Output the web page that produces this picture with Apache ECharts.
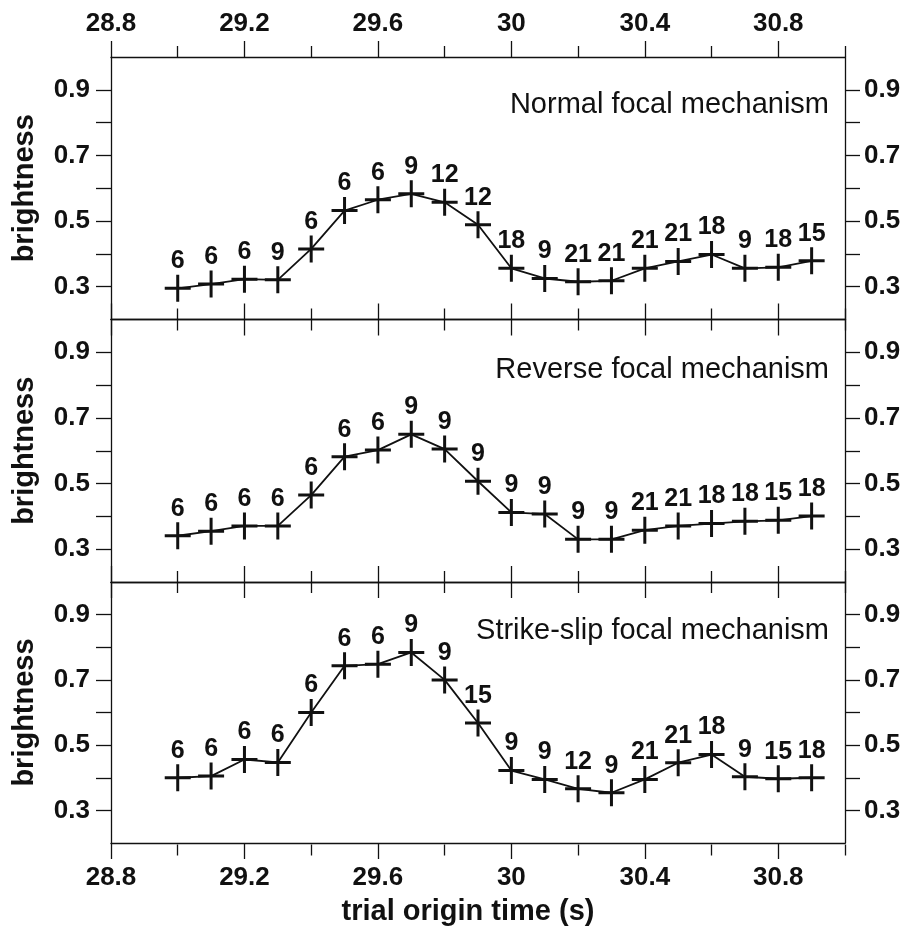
<!DOCTYPE html>
<html>
<head>
<meta charset="utf-8">
<title>Brightness vs trial origin time</title>
<script src="https://cdn.jsdelivr.net/npm/echarts@6/dist/echarts.min.js"></script>
<style>
  html, body { margin: 0; padding: 0; background: #ffffff; }
  #chart { width: 904px; height: 927px; }
</style>
</head>
<body>
<div id="chart"></div>
<script>
// Trial origin times (s) at which the brightness was evaluated
const trialTimes = [29.0, 29.1, 29.2, 29.3, 29.4, 29.5, 29.6, 29.7, 29.8, 29.9,
                    30.0, 30.1, 30.2, 30.3, 30.4, 30.5, 30.6, 30.7, 30.8, 30.9];

// Brightness per focal mechanism
const normalBrightness = [0.295, 0.308, 0.323, 0.321, 0.415, 0.532, 0.565, 0.583, 0.557, 0.489,
                          0.356, 0.325, 0.315, 0.318, 0.356, 0.377, 0.398, 0.356, 0.359, 0.379];
const reverseBrightness = [0.341, 0.355, 0.371, 0.371, 0.465, 0.582, 0.602, 0.650, 0.605, 0.507,
                           0.412, 0.407, 0.330, 0.330, 0.358, 0.371, 0.378, 0.385, 0.388, 0.401];
const strikeSlipBrightness = [0.400, 0.405, 0.456, 0.447, 0.600, 0.743, 0.748, 0.784, 0.700, 0.568,
                              0.422, 0.395, 0.366, 0.354, 0.395, 0.446, 0.471, 0.403, 0.397, 0.400];

// Numbers printed above each point
const normalCounts = [6, 6, 6, 9, 6, 6, 6, 9, 12, 12, 18, 9, 21, 21, 21, 21, 18, 9, 18, 15];
const reverseCounts = [6, 6, 6, 6, 6, 6, 6, 9, 9, 9, 9, 9, 9, 9, 21, 21, 18, 18, 15, 18];
const strikeSlipCounts = [6, 6, 6, 6, 6, 6, 6, 9, 9, 15, 9, 9, 12, 9, 21, 21, 18, 9, 15, 18];

const panelTitles = ['Normal focal mechanism', 'Reverse focal mechanism', 'Strike-slip focal mechanism'];

// Axis ticks and labels
const xMajorTicks = [28.8, 29.2, 29.6, 30.0, 30.4, 30.8];
const xMinorTicks = [29.0, 29.4, 29.8, 30.2, 30.6, 31.0];
const yTicks = [0.3, 0.4, 0.5, 0.6, 0.7, 0.8, 0.9];
const yTickLabels = [0.3, 0.5, 0.7, 0.9];

const FONT = '"Liberation Sans", Arial, Helvetica, sans-serif';
const INK = '#111111';

const panels = [
  { values: normalBrightness, counts: normalCounts },
  { values: reverseBrightness, counts: reverseCounts },
  { values: strikeSlipBrightness, counts: strikeSlipCounts }
];

const GRID_LEFT = 111, GRID_RIGHT = 59, GRID_H = 262.5;
const gridTops = [57, 319.5, 582];

const grids = [];
// main grids, then twin grids carrying the minor x ticks
for (let k = 0; k < 2; k++) {
  gridTops.forEach(t => grids.push({ left: GRID_LEFT, right: GRID_RIGHT, top: t, height: GRID_H, containLabel: false }));
}

const lineStyle = { color: INK, width: 1.3 };
const xAxes = [];
const yAxes = [];

function xAxisDef(gridIndex, position, ticks, tickLen, inside, showLine, showLabels) {
  return {
    type: 'value', gridIndex, position, min: 28.8, max: 31.0, interval: 0.2,
    axisLine: { show: showLine, onZero: false, lineStyle },
    axisTick: { show: true, inside, length: tickLen, customValues: ticks, lineStyle },
    axisLabel: {
      show: showLabels, customValues: xMajorTicks, margin: position === 'top' ? 20 : 22,
      color: INK, fontFamily: FONT, fontSize: 26, fontWeight: 'bold',
      formatter: v => String(Math.round(v * 10) / 10)
    },
    splitLine: { show: false }
  };
}

for (let g = 0; g < 3; g++) {
  // top and bottom frame lines with major ticks
  xAxes.push(xAxisDef(g, 'top', xMajorTicks, 16, g > 0, true, g === 0));
  const bottom = xAxisDef(g, 'bottom', xMajorTicks, 16, g < 2, true, g === 2);
  if (g === 2) {
    bottom.name = 'trial origin time (s)';
    bottom.nameLocation = 'middle';
    bottom.nameGap = 54;
    bottom.nameTextStyle = { color: INK, fontFamily: FONT, fontSize: 29, fontWeight: 'bold', padding: [0, 20, 0, 0] };
  }
  xAxes.push(bottom);
}
for (let g = 0; g < 3; g++) {
  // shorter ticks halfway between the labelled ones
  xAxes.push(xAxisDef(3 + g, 'top', xMinorTicks, 11, g > 0, false, false));
  xAxes.push(xAxisDef(3 + g, 'bottom', xMinorTicks, 11, g < 2, false, false));
}

function yAxisDef(gridIndex, position) {
  return {
    type: 'value', gridIndex, position, min: 0.2, max: 1.0, interval: 0.1,
    axisLine: { show: true, onZero: false, lineStyle },
    axisTick: { show: true, inside: false, length: 15, customValues: yTicks, lineStyle },
    axisLabel: {
      show: true, customValues: yTickLabels, margin: position === 'left' ? 21 : 19,
      color: INK, fontFamily: FONT, fontSize: 26, fontWeight: 'bold',
      formatter: v => v.toFixed(1)
    },
    splitLine: { show: false }
  };
}

for (let g = 0; g < 3; g++) {
  const left = yAxisDef(g, 'left');
  left.name = 'brightness';
  left.nameLocation = 'middle';
  left.nameGap = 72;
  left.nameTextStyle = { color: INK, fontFamily: FONT, fontSize: 29, fontWeight: 'bold' };
  yAxes.push(left);
  yAxes.push(yAxisDef(g, 'right'));
}
for (let g = 0; g < 3; g++) {
  yAxes.push({ type: 'value', gridIndex: 3 + g, min: 0.2, max: 1.0, show: false });
}

// plus-sign marker, filled bars
const plusSymbol = 'path://M11.5,0 h3 v27 h-3z M0,12 h26 v3 h-26z';

const series = panels.map((p, g) => ({
  type: 'line',
  xAxisIndex: 2 * g + 1,
  yAxisIndex: 2 * g,
  data: trialTimes.map((t, i) => [t, p.values[i], p.counts[i]]),
  symbol: plusSymbol,
  symbolSize: [26, 27],
  showAllSymbol: true,
  lineStyle: { color: INK, width: 1.8 },
  itemStyle: { color: INK },
  label: {
    show: true, position: 'top', distance: 1,
    color: INK, fontFamily: FONT, fontSize: 25, fontWeight: 'bold',
    formatter: d => String(d.value[2])
  },
  emphasis: { disabled: true },
  animation: false
}));

const titles = panelTitles.map((text, g) => ({
  text, right: 75, top: [90, 355, 616.5][g], padding: 0,
  textStyle: { color: INK, fontFamily: FONT, fontSize: 29, fontWeight: 'normal' }
}));

const chart = echarts.init(document.getElementById('chart'), null, { renderer: 'canvas' });
chart.setOption({
  backgroundColor: '#ffffff',
  animation: false,
  title: titles,
  grid: grids,
  xAxis: xAxes,
  yAxis: yAxes,
  series
});
</script>
</body>
</html>
